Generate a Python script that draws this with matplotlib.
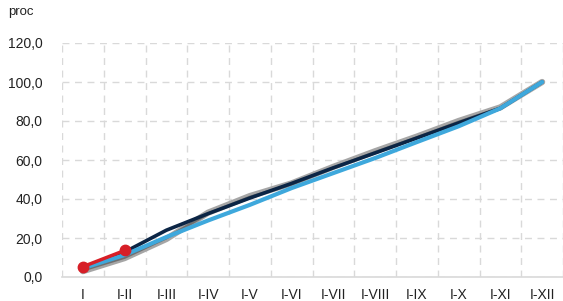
import matplotlib
matplotlib.use("Agg")
import matplotlib.pyplot as plt
from matplotlib.ticker import FixedLocator

plt.rcParams['font.family'] = ['Liberation Sans', 'DejaVu Sans']

categories = ["I", "I-II", "I-III", "I-IV", "I-V", "I-VI", "I-VII", "I-VIII", "I-IX", "I-X", "I-XI", "I-XII"]
gray_light = [3.0, 9.7, 19.5, 33.0, 41.5, 48.0, 56.5, 64.5, 72.0, 80.0, 87.0, 100.0]
gray_dark = [3.5, 10.0, 20.0, 32.5, 41.0, 47.5, 56.0, 64.0, 71.5, 79.5, 86.8, 100.0]
navy = [4.5, 12.8, 24.0, 32.5, 40.5, 48.0, 56.0, 63.6, 71.3, 79.0, 86.5, 100.0]
light_blue = [4.5, 11.3, 20.5, 29.0, 37.0, 45.6, 53.3, 61.0, 69.2, 77.3, 86.5, 100.0]
red = [5.3, 13.6]
yticks = [0, 20, 40, 60, 80, 100, 120]

fig = plt.figure(figsize=(5.63, 3.01), dpi=100)
ax = fig.add_axes([62/563, 1-277/301, 501/563, (277-43)/301])

x = list(range(len(categories)))
ax.plot(x, gray_light, color="#a6a6a6", lw=4.5, solid_capstyle='round', zorder=3)
ax.plot(x, gray_dark, color="#6f6f6f", lw=2, solid_capstyle='round', zorder=3)
ax.plot(x, navy, color="#0b2545", lw=2.6, solid_capstyle='round', zorder=4)
ax.plot(x, light_blue, color="#3ea8dc", lw=3, solid_capstyle='round', zorder=5)
ax.plot(x[:len(red)], red, color="#d71f27", lw=2.5, marker='o', ms=7.5, zorder=6)

ax.set_xlim(-0.5, len(categories)-0.5)
ax.set_ylim(0, 120)
ax.set_yticks(yticks)
ax.set_yticklabels([f"{v:.1f}".replace('.', ',') for v in yticks])
ax.set_xticks(x)
ax.set_xticklabels(categories)
ax.xaxis.set_minor_locator(FixedLocator([i - 0.5 for i in range(len(categories)+1)]))

ax.grid(False)
ax.grid(True, axis='y', which='major', color='#d9d9d9', ls=(0, (5, 4)), lw=1)
ax.grid(True, axis='x', which='minor', color='#d9d9d9', ls=(0, (5, 4)), lw=1)
for s in ['top', 'right', 'left']:
    ax.spines[s].set_visible(False)
ax.spines['bottom'].set_color('#d9d9d9')
ax.spines['bottom'].set_linewidth(1.2)
ax.tick_params(axis='both', which='both', length=0, labelsize=10, colors='#222222')
ax.tick_params(axis='y', pad=14)
ax.tick_params(axis='x', pad=8)

fig.text(8/563, 1-12/301, "proc", fontsize=9.5, va='center', ha='left', color='#222222')

fig.savefig("out.png", dpi=100)
